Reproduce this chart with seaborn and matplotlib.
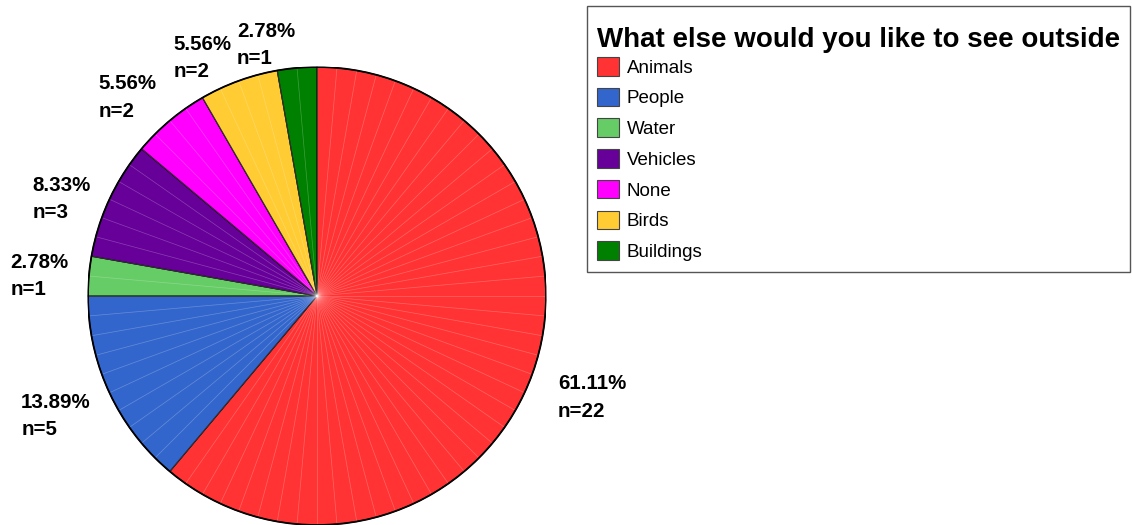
import numpy as np
import matplotlib
matplotlib.use("Agg")
import matplotlib.pyplot as plt
from matplotlib.patches import Rectangle
import seaborn as sns

categories = ["Animals", "People", "Water", "Vehicles", "None", "Birds", "Buildings"]
counts = [22, 5, 1, 3, 2, 2, 1]
colors = ["#FF3333", "#3366CC", "#66CC66", "#660099", "#FF00FF", "#FFCC33", "#008000"]
legend_title = "What else would you like to see outside"

sns.set_theme(style="white")
plt.rcParams['font.family'] = ['Liberation Sans', 'DejaVu Sans']

W, H = 1132, 525
fig = plt.figure(figsize=(W / 100, H / 100), dpi=100)
ax = fig.add_axes([88 / W, 0.0, 458 / W, 458 / H])

total = sum(counts)
wedges, _ = ax.pie(counts, colors=colors, startangle=90, counterclock=False,
                   radius=1.0,
                   wedgeprops=dict(edgecolor="black", linewidth=0.8))
for w in wedges:
    w.set_zorder(2)

# faint seams every 5 degrees as in the reference rendering
for a in np.arange(0, 360, 5):
    t = np.deg2rad(a)
    ax.plot([0, np.cos(t)], [0, np.sin(t)], color="white", lw=0.5, alpha=0.25, zorder=3)
circ = plt.Circle((0, 0), 1.0, fill=False, edgecolor="black", lw=1.3, zorder=4)
ax.add_patch(circ)

for w, c in zip(wedges, counts):
    mid = np.deg2rad((w.theta1 + w.theta2) / 2)
    cx, sy = np.cos(mid), np.sin(mid)
    x, y = (1.12 if cx > 0 else 1.09) * cx, 1.0 * sy
    ha = "left" if cx > 0 else "right"
    va = "bottom" if sy > 0.5 else ("top" if sy < -0.25 else "center")
    ax.text(x, y, f"{c / total * 100:.2f}%\nn={c}", ha=ha, va=va,
            multialignment="left", fontsize=14.8, fontweight="bold",
            linespacing=1.55, color="black")

ax.set_xlim(-1, 1)
ax.set_ylim(-1, 1)
ax.set_aspect("equal")
ax.axis("off")

# legend frame
fig.patches.append(Rectangle((587 / W, 1 - 272 / H), (1130 - 587) / W, (272 - 6) / H,
                             transform=fig.transFigure, fill=False,
                             edgecolor="#555555", linewidth=1.0))
fig.text(597 / W, 1 - 47 / H, legend_title, ha="left", va="baseline",
         fontsize=20, fontweight="bold", color="black")

leg = fig.legend(wedges, categories,
                 loc="upper left", bbox_to_anchor=(597 / W, 1 - 57 / H),
                 fontsize=13.5, frameon=False,
                 handlelength=1.15, handleheight=1.15, handletextpad=0.45,
                 labelspacing=0.59, borderpad=0, borderaxespad=0,
                 labelcolor="black")
for h in leg.legend_handles:
    h.set_edgecolor("#444444")
    h.set_linewidth(0.8)

fig.savefig("out.png", dpi=100)
